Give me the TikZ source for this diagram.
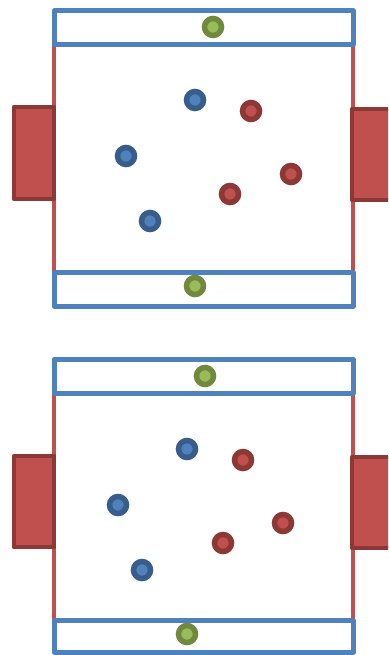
\documentclass[tikz,border=0pt]{standalone}
\definecolor{oblue}{HTML}{4F81BD}
\definecolor{dblue}{HTML}{385D8A}
\definecolor{ored}{HTML}{C0504D}
\definecolor{dred}{HTML}{8C3836}
\definecolor{ogreen}{HTML}{9BBB59}
\definecolor{dgreen}{HTML}{71893F}
\tikzset{
  sideline/.style={draw=ored, line width=4.5pt},
  zone/.style={draw=oblue, line width=5pt, line join=round},
  goal/.style={draw=dred, fill=ored, line width=4.5pt, line join=round},
  bluep/.style={circle, draw=dblue, fill=oblue, line width=5.5pt, minimum size=17pt, inner sep=0pt},
  redp/.style={circle, draw=dred, fill=ored, line width=5.5pt, minimum size=17pt, inner sep=0pt},
  ball/.style={circle, draw=dgreen, fill=ogreen, line width=5.5pt, minimum size=17pt, inner sep=0pt},
}
\begin{document}
\begin{tikzpicture}[x=1pt, y=-1pt]
\useasboundingbox (0,0) rectangle (388,655);
\clip (0,0) rectangle (388,655);
% ---- top diagram ----
\draw[sideline] (54,45) -- (54,272);
\draw[sideline] (353,45) -- (353,272);
\draw[goal] (14,107) rectangle (54,199);
\draw[goal] (352,109) rectangle (398,200);
\draw[zone] (54,11) rectangle (353,45);
\draw[zone] (54,272) rectangle (353,306);
\node[ball] (g1) at (213,27) {};
\node[ball] (g2) at (195,286) {};
\node[bluep] (b1) at (195,100) {};
\node[bluep] (b2) at (126,156) {};
\node[bluep] (b3) at (150,221) {};
\node[redp] (r1) at (251,111) {};
\node[redp] (r2) at (291,174) {};
\node[redp] (r3) at (230,194) {};
% ---- bottom diagram ----
\draw[sideline] (54,393) -- (54,620);
\draw[sideline] (353,393) -- (353,620);
\draw[goal] (14,456) rectangle (54,547);
\draw[goal] (352,457) rectangle (398,548);
\draw[zone] (54,359) rectangle (353,393);
\draw[zone] (54,620) rectangle (353,652);
\node[ball] (g3) at (205,376) {};
\node[ball] (g4) at (187,634) {};
\node[bluep] (b4) at (187,449) {};
\node[bluep] (b5) at (118,505) {};
\node[bluep] (b6) at (142,570) {};
\node[redp] (r4) at (243,460) {};
\node[redp] (r5) at (283,523) {};
\node[redp] (r6) at (223,543) {};
\end{tikzpicture}
\end{document}
